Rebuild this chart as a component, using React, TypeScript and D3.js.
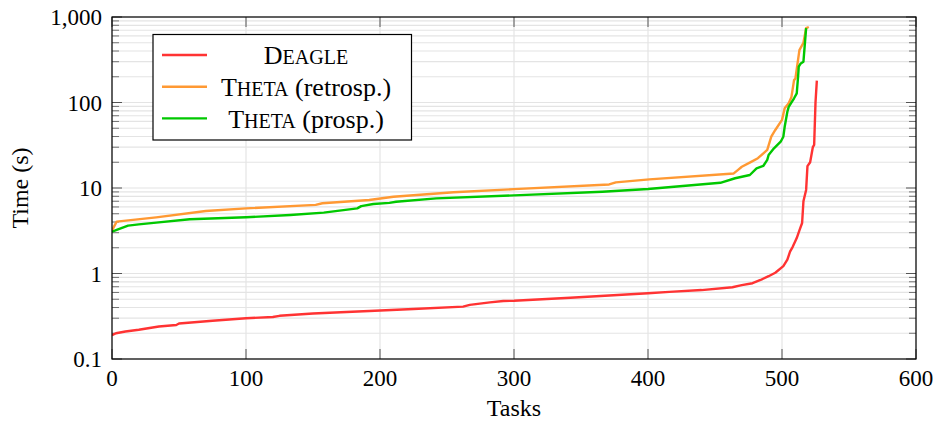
import * as d3 from 'd3';
import React from 'react';

// runtime per task (sorted)
const deagle: [number, number][] = [
  [0, 0.19], [3, 0.2], [10, 0.21], [20, 0.22], [35, 0.24], [48, 0.25], [50, 0.26],
  [75, 0.28], [100, 0.3], [120, 0.31], [125, 0.32], [150, 0.34], [175, 0.355],
  [192, 0.364], [225, 0.385], [262, 0.41], [267, 0.43], [282, 0.46], [292, 0.477],
  [300, 0.48], [342, 0.52], [400, 0.587], [416, 0.61], [440, 0.64], [463, 0.69],
  [470, 0.73], [478, 0.77], [484, 0.84], [490, 0.93], [495, 1.02], [501, 1.22],
  [504, 1.45], [506, 1.8], [508, 2.05], [511, 2.6], [513, 3.2], [515, 3.9],
  [516, 7], [518, 9.5], [519, 18], [521, 20], [523, 30], [524, 32], [525, 100], [526, 180],
];

const thetaRetro: [number, number][] = [
  [0, 3.2], [3.5, 4.04], [33, 4.54], [70, 5.38], [100, 5.78], [152, 6.34], [157, 6.63],
  [192, 7.23], [210, 7.9], [255, 8.91], [300, 9.7], [371, 11.0], [376, 11.65],
  [401, 12.6], [464, 14.8], [467, 16.2], [470, 17.7], [477, 20.2], [482, 22.3],
  [489, 27.9], [492, 39.8], [495, 47.7], [500, 62.6], [502, 85.6], [505, 98.2],
  [507, 115], [509, 183], [510, 190], [513, 410], [516, 500], [518, 740], [520, 764],
];

const thetaProsp: [number, number][] = [
  [0, 3.08], [3.5, 3.23], [12, 3.63], [20, 3.76], [33, 3.93], [58, 4.31], [100, 4.54],
  [133, 4.83], [158, 5.15], [183, 5.78], [186, 6.14], [195, 6.49], [207, 6.7],
  [212, 6.9], [242, 7.56], [300, 8.2], [366, 9.05], [400, 9.73], [454, 11.5],
  [465, 13.0], [476, 14.2], [481, 17.0], [486, 18.1], [489, 21.3], [490, 24.3],
  [494, 29.1], [499, 34.8], [501, 39.8], [502, 52], [504, 78], [505, 89], [509, 112],
  [511, 128], [512, 200], [512.5, 262], [514, 286], [516, 300], [518, 740],
];

const xTicks = [0, 100, 200, 300, 400, 500, 600];
const yTicks = [0.1, 1, 10, 100, 1000];
const yTickLabels = ['0.1', '1', '10', '100', '1,000'];

// legend: small-caps tool name + plain suffix
const series = [
  { name: 'Deagle', suffix: '', data: deagle, color: '#ff3333' },
  { name: 'Theta', suffix: ' (retrosp.)', data: thetaRetro, color: '#ff9933' },
  { name: 'Theta', suffix: ' (prosp.)', data: thetaProsp, color: '#00c800' },
];

const W = 941;
const H = 422;
const left = 112, right = 916, top = 17, bottom = 359;
const font = '"Liberation Serif", "DejaVu Serif", serif';

export default function App() {
  const x = d3.scaleLinear().domain([0, 600]).range([left, right]);
  const y = d3.scaleLog().domain([0.1, 1000]).range([bottom, top]);

  const minors: number[] = [];
  for (let p = -1; p < 3; p++) {
    for (let m = 2; m <= 9; m++) minors.push(m * Math.pow(10, p));
  }

  const line = d3.line<[number, number]>()
    .x(d => x(d[0]))
    .y(d => y(d[1]));

  const grid = '#e4e4e4';
  const tickCol = '#555';

  return (
    <svg width={W} height={H} style={{ position: 'absolute', left: 0, top: 0 }}
      fontFamily={font}>
      <rect width={W} height={H} fill="#fff" />
      <defs>
        <clipPath id="plot">
          <rect x={left} y={top} width={right - left} height={bottom - top} />
        </clipPath>
      </defs>

      {/* grid */}
      {minors.concat(yTicks).map(v => (
        <line key={'hg' + v} x1={left} x2={right} y1={y(v)} y2={y(v)} stroke={grid} strokeWidth={1.2} />
      ))}
      {xTicks.map(v => (
        <line key={'vg' + v} x1={x(v)} x2={x(v)} y1={top} y2={bottom} stroke={grid} strokeWidth={1.2} />
      ))}

      {/* ticks */}
      {minors.map(v => (
        <g key={'mt' + v}>
          <line x1={left} x2={left + 7} y1={y(v)} y2={y(v)} stroke={tickCol} strokeWidth={0.8} />
          <line x1={right} x2={right - 7} y1={y(v)} y2={y(v)} stroke={tickCol} strokeWidth={0.8} />
        </g>
      ))}
      {yTicks.map(v => (
        <g key={'yt' + v}>
          <line x1={left} x2={left + 10} y1={y(v)} y2={y(v)} stroke={tickCol} strokeWidth={1} />
          <line x1={right} x2={right - 10} y1={y(v)} y2={y(v)} stroke={tickCol} strokeWidth={1} />
        </g>
      ))}
      {xTicks.map(v => (
        <g key={'xt' + v}>
          <line x1={x(v)} x2={x(v)} y1={bottom} y2={bottom - 10} stroke={tickCol} strokeWidth={1} />
          <line x1={x(v)} x2={x(v)} y1={top} y2={top + 10} stroke={tickCol} strokeWidth={1} />
        </g>
      ))}

      {/* series */}
      <g clipPath="url(#plot)">
        {series.map(s => (
          <path key={s.name + s.suffix} d={line(s.data) || ''} fill="none" stroke={s.color}
            strokeWidth={2.4} strokeLinejoin="round" />
        ))}
      </g>

      {/* frame */}
      <rect x={left} y={top} width={right - left} height={bottom - top} fill="none" stroke="#000" strokeWidth={1.2} />

      {/* tick labels */}
      {yTicks.map((v, i) => (
        <text key={'yl' + v} x={102} y={y(v)} dy="0.35em" textAnchor="end" fontSize={23} fill="#000">
          {yTickLabels[i]}
        </text>
      ))}
      {xTicks.map(v => (
        <text key={'xl' + v} x={x(v)} y={386} textAnchor="middle" fontSize={23} fill="#000">
          {v}
        </text>
      ))}

      {/* axis titles */}
      <text x={(left + right) / 2} y={416} textAnchor="middle" fontSize={24}>Tasks</text>
      <text transform={`translate(28, ${(top + bottom) / 2}) rotate(-90)`} textAnchor="middle" fontSize={24}>Time (s)</text>

      {/* legend */}
      <g>
        <rect x={153} y={34.5} width={258.5} height={105.5} fill="#fff" stroke="#000" strokeWidth={1.2} />
        {series.map((s, i) => {
          const ly = 55 + i * 31.7;
          return (
            <g key={'lg' + i}>
              <line x1={162} x2={207} y1={ly} y2={ly} stroke={s.color} strokeWidth={2.4} />
              <text x={306} y={ly} dy="0.36em" textAnchor="middle" fontSize={26}>
                <tspan>{s.name[0]}</tspan>
                <tspan fontSize={20}>{s.name.slice(1).toUpperCase()}</tspan>
                <tspan>{s.suffix}</tspan>
              </text>
            </g>
          );
        })}
      </g>
    </svg>
  );
}
